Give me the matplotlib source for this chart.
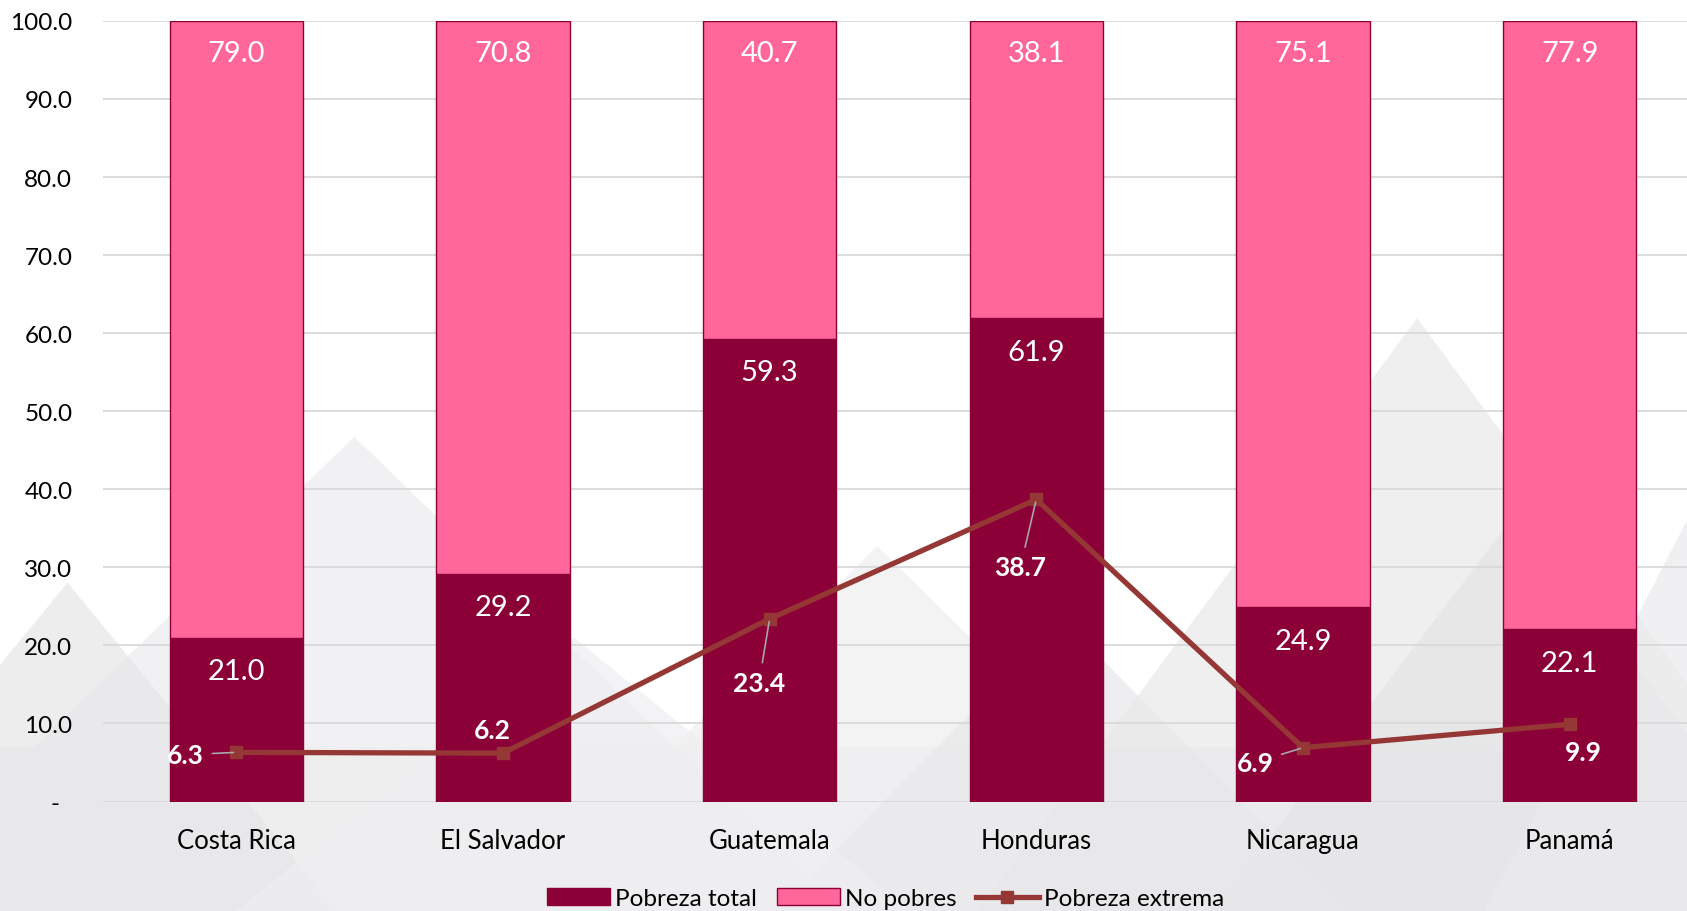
import numpy as np
import matplotlib
matplotlib.use('Agg')
import matplotlib.pyplot as plt
from matplotlib.patches import Polygon

# data
paises       = ['Costa Rica', 'El Salvador', 'Guatemala', 'Honduras', 'Nicaragua', 'Panamá']
pobrezaTotal = [21.0, 29.2, 59.3, 61.9, 24.9, 22.1]
noPobres     = [79.0, 70.8, 40.7, 38.1, 75.1, 77.9]
pobrezaExt   = [6.3, 6.2, 23.4, 38.7, 6.9, 9.9]

# label placement for the extreme poverty series (dx in categories, y in data units, leader line?)
extOffsets = [(-0.19, 6.0, True), (-0.04, 9.2, False), (-0.04, 15.2, True),
              (-0.06, 30.0, True), (-0.18, 5.0, True), (0.05, 6.3, False)]

cDark = '#8B0037'
cPink = '#FF6699'
cLine = '#953735'

plt.rcParams['font.family'] = ['Lato', 'DejaVu Sans']

fig = plt.figure(figsize=(16.87, 9.12), dpi=100)
fig.patch.set_facecolor('white')

# background mountain pattern (decorative), own axes behind the chart
bg = fig.add_axes([0, 0, 1, 1], zorder=0)
bg.set_xlim(0, 1)
bg.set_ylim(0, 1)
bg.axis('off')
bg.add_patch(Polygon([(0, 0), (0, 0.18), (1, 0.18), (1, 0)], facecolor='#f3f3f4', edgecolor='none'))
tris = [((-0.08, 0.0), (0.21, 0.52), (0.50, 0.0), '#ececee'),
        ((0.30, 0.0), (0.52, 0.40), (0.74, 0.0), '#eeeef0'),
        ((0.58, 0.0), (0.84, 0.65), (1.10, 0.0), '#e9e9eb'),
        ((0.72, 0.0), (0.90, 0.44), (1.08, 0.0), '#e4e4e6'),
        ((0.46, 0.0), (0.63, 0.32), (0.80, 0.0), '#e8e8ea'),
        ((-0.12, 0.0), (0.04, 0.36), (0.20, 0.0), '#e6e6e8'),
        ((0.14, 0.0), (0.34, 0.30), (0.54, 0.0), '#efeff1'),
        ((0.88, 0.0), (1.02, 0.50), (1.16, 0.0), '#ebebed')]
for a, b, c, col in tris:
    bg.add_patch(Polygon([a, b, c], closed=True, facecolor=col, edgecolor='none', alpha=0.7))

ax = fig.add_axes([0.061, 0.12, 0.939, 0.856], zorder=1)
ax.set_facecolor('none')

x = np.arange(len(paises))
w = 0.5
b1 = ax.bar(x, pobrezaTotal, w, color=cDark, edgecolor=cDark, linewidth=1, label='Pobreza total', zorder=2)
b2 = ax.bar(x, noPobres, w, bottom=pobrezaTotal, color=cPink, edgecolor=cDark, linewidth=1, label='No pobres', zorder=2)
ax.plot(x, pobrezaExt, color=cLine, linewidth=3.8, marker='s', markersize=9, label='Pobreza extrema', zorder=4)

for i in range(len(paises)):
    ax.text(x[i], pobrezaTotal[i] - 4.3, '%.1f' % pobrezaTotal[i], ha='center', va='center',
            color='white', fontsize=21, zorder=5)
    ax.text(x[i], 100 - 4.1, '%.1f' % noPobres[i], ha='center', va='center',
            color='white', fontsize=21, zorder=5)
    dx, ly, leader = extOffsets[i]
    if leader:
        ax.annotate('%.1f' % pobrezaExt[i], xy=(x[i], pobrezaExt[i]), xytext=(x[i] + dx, ly),
                    ha='center', va='center', color='white', fontsize=19, fontweight='bold',
                    arrowprops=dict(arrowstyle='-', color='#a6a6a6', lw=1.2, shrinkA=4, shrinkB=2),
                    zorder=5)
    else:
        ax.text(x[i] + dx, ly, '%.1f' % pobrezaExt[i], ha='center', va='center',
                color='white', fontsize=19, fontweight='bold', zorder=5)

ax.set_ylim(0, 100)
ax.set_xlim(-0.5, 5.44)
yt = np.arange(0, 101, 10)
ax.set_yticks(yt)
ax.set_yticklabels(['-  '] + ['%.1f' % v for v in yt[1:]], fontsize=17.5)
ax.set_xticks(x)
ax.set_xticklabels(paises, fontsize=18.5)
ax.tick_params(axis='both', length=0)
ax.tick_params(axis='y', pad=22)
ax.tick_params(axis='x', pad=19)
ax.grid(axis='y', color='#d9d9d9', linewidth=1.3, zorder=0)
ax.set_axisbelow(True)
for s in ax.spines.values():
    s.set_visible(False)

fig.legend(handles=[b1, b2, ax.lines[0]], loc='lower center', bbox_to_anchor=(0.525, -0.022),
           ncol=3, frameon=False, fontsize=17.5, handlelength=2.6, handletextpad=0.2,
           columnspacing=0.8)

plt.savefig('out.png', dpi=100)
